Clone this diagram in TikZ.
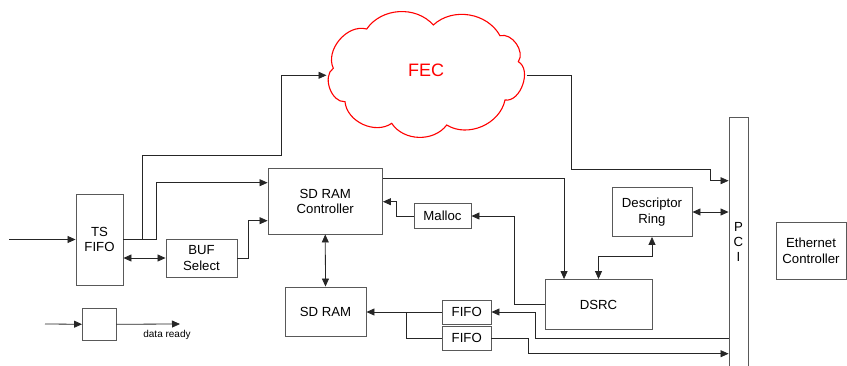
\documentclass[tikz,border=0pt]{standalone}
\usepackage{fontspec}
\setmainfont{Liberation Sans}
\usetikzlibrary{arrows.meta}
\begin{document}
\begin{tikzpicture}[x=1pt,y=-1pt,
  box/.style={draw=black!65, line width=0.9pt, inner sep=0pt, align=center,
    font=\fontsize{13.2}{15.5}\selectfont},
  conn/.style={draw=black!85, line width=0.8pt},
  arr/.style={conn, -{Triangle[length=8pt,width=7pt]}},
  darr/.style={conn, {Triangle[length=8pt,width=7pt]}-{Triangle[length=8pt,width=7pt]}},
  cloudline/.style={draw=red, line width=1.1pt},
]
\useasboundingbox (0,0) rectangle (847,365);

% cloud
\coordinate (c1) at (366.7,29);
\coordinate (c2) at (433.3,25);
\coordinate (c3) at (500,35.7);
\coordinate (c4) at (518.3,61.7);
\coordinate (c5) at (505,100);
\coordinate (c6) at (446.7,125);
\coordinate (c7) at (391.7,123.3);
\coordinate (c8) at (345,101.7);
\coordinate (c9) at (333.3,68.3);
\path[cloudline] (c1) to[bend left=52] (c2) to[bend left=52] (c3)
  to[bend left=70] (c4) to[bend left=80] (c5) to[bend left=55] (c6)
  to[bend left=55] (c7) to[bend left=60] (c8) to[bend left=75] (c9)
  to[bend left=65] (c1) -- cycle;
\node[text=red, font=\fontsize{18}{20}\selectfont] (fec) at (426,70) {FEC};
\coordinate (fecL) at (326.5,75.3);
\coordinate (fecR) at (526.7,75.3);

% boxes
\node[box, minimum width=47pt, minimum height=91pt] (ts) at (99.5,239.5) {TS\\FIFO};
\node[box, minimum width=71pt, minimum height=38pt] (buf) at (201.5,258) {BUF\\Select};
\node[box, minimum width=114.5pt, minimum height=65.5pt] (ctrl) at (325.25,201.25) {SD RAM\\Controller};
\node[box, minimum width=81pt, minimum height=49pt] (sdram) at (325.5,311.5) {SD RAM};
\node[box, minimum width=57pt, minimum height=25pt] (malloc) at (442.5,216) {Malloc};
\node[box, minimum width=107pt, minimum height=50pt] (dsrc) at (598.5,304.5) {DSRC};
\node[box, minimum width=80pt, minimum height=49pt] (ring) at (652,212) {Descriptor\\Ring};
\node[box, minimum width=19pt, minimum height=255pt] (pci) at (738.5,245) {};
\node[font=\fontsize{13.2}{15}\selectfont, align=center, inner sep=0pt] (pcil) at (738.5,242) {P\\C\\I};
\node[box, minimum width=70pt, minimum height=56.5pt] (eth) at (811,251) {Ethernet\\Controller};
\node[box, minimum width=48.5pt, minimum height=24pt] (fifo1) at (466.75,312) {FIFO};
\node[box, minimum width=48.5pt, minimum height=23.5pt] (fifo2) at (466.75,338.25) {FIFO};
\node[box, minimum width=33.5pt, minimum height=32.5pt] (leg) at (99.25,324.25) {};

% connectors
\coordinate (in) at (9,239.5);
\draw[arr] (in) -- (ts.west);
\draw[arr] (ts.east) -| (142,155) -| (281,75.3) -- (fecL);
\draw[arr] (ts.east) -| (156,182.7) -- (ctrl.west |- 0,182.7);
\draw[darr] (ts.east |- buf.west) -- (buf.west);
\draw[arr] (buf.east) -| (248,220.7) -- (ctrl.west |- 0,220.7);
\draw[darr] (ctrl.south) -- (sdram.north);
\draw[arr] (malloc.west) -| (396,201.7) -- (ctrl.east |- 0,201.7);
\draw[arr] (ctrl.east |- 0,178.5) -| ([xshift=19.5pt]dsrc.north west);
\draw[arr] (dsrc.west) -| (514.3,216) -- (malloc.east);
\draw[darr] (dsrc.north) |- (ring.south |- 0,256.7) -- (ring.south);
\draw[darr] (ring.east) -- (pci.west |- ring.east);
\draw[arr] (fecR) -| (571.7,169) -| (710.7,180.7) -- (pci.west |- 0,180.7);
\draw[arr] (fifo1.west) -- (sdram.east |- fifo1.west);
\coordinate (j) at (406.7,312);
\draw[conn] (j) |- (fifo2.west);
\draw[arr] (pci.west |- 0,338.3) -| (535.7,312) -- (fifo1.east);
\draw[arr] (fifo2.east) -| (528.3,353.7) -- (pci.west |- 0,353.7);

% legend
\coordinate (lin) at (45,324);
\coordinate (lout) at (180,324);
\draw[arr] (lin) -- (leg.west);
\draw[arr] (leg.east) -- (lout);
\node[font=\fontsize{10}{12}\selectfont, inner sep=0pt] (dr) at (167,334.5) {data ready};
\end{tikzpicture}
\end{document}
